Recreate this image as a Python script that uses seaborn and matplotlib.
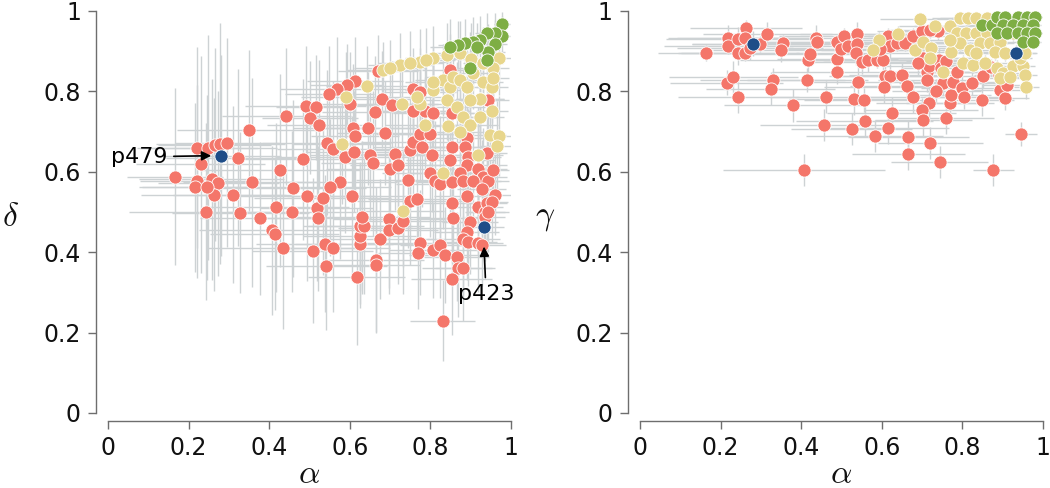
import matplotlib
matplotlib.use("Agg")
import matplotlib.pyplot as plt
import seaborn as sns

# ---------------- data ----------------
# Left panel: alpha vs delta
lr_alpha = [0.670,0.613,0.592,0.567,0.549,0.491,0.516,0.442,0.501,0.524,
            0.351,0.600,0.679,0.704,0.662,0.609,0.613,0.646,0.687,0.543,
            0.559,0.588,0.610,0.650,0.658,0.712,0.700,0.720,0.749,0.757,
            0.774,0.799,0.778,0.803,0.757,0.774,0.787,0.807,0.849,0.853,
            0.890,0.853,0.849,0.886,0.894,0.890,0.940,0.919,0.931,0.873,
            0.799,0.812,0.824,0.853,0.882,0.906,0.944,0.956,0.960,0.927,
            0.745,0.923,0.944,0.757,0.221,0.249,0.265,0.278,0.295,0.323,
            0.230,0.166,0.220,0.257,0.274,0.357,0.427,0.485,0.460,0.576,
            0.605,0.493,0.311,0.262,0.216,0.245,0.243,0.328,0.377,0.417,
            0.456,0.518,0.533,0.551,0.522,0.406,0.414,0.435,0.508,0.538,
            0.559,0.541,0.617,0.624,0.624,0.625,0.634,0.629,0.665,0.665,
            0.675,0.698,0.698,0.720,0.731,0.749,0.766,0.774,0.770,0.807,
            0.824,0.836,0.865,0.869,0.882,0.853,0.830,0.857,0.853,0.890,
            0.919,0.936,0.940,0.952,0.898,0.890,0.882,0.894,0.919,0.927,
            0.936,0.944]
lr_delta = [0.850,0.825,0.817,0.806,0.793,0.764,0.760,0.738,0.735,0.717,
            0.703,0.769,0.780,0.766,0.748,0.708,0.688,0.708,0.696,0.672,
            0.656,0.637,0.650,0.641,0.621,0.644,0.608,0.617,0.654,0.675,
            0.695,0.695,0.662,0.641,0.807,0.799,0.750,0.745,0.853,0.745,
            0.683,0.662,0.629,0.662,0.637,0.617,0.646,0.608,0.588,0.597,
            0.597,0.577,0.569,0.574,0.577,0.577,0.577,0.604,0.542,0.558,
            0.580,0.782,0.779,0.750,0.660,0.660,0.667,0.670,0.672,0.635,
            0.619,0.588,0.577,0.581,0.572,0.574,0.604,0.631,0.559,0.574,
            0.539,0.539,0.543,0.543,0.561,0.561,0.501,0.498,0.484,0.512,
            0.501,0.509,0.534,0.561,0.484,0.454,0.446,0.410,0.404,0.421,
            0.410,0.366,0.339,0.421,0.441,0.464,0.466,0.487,0.381,0.369,
            0.433,0.482,0.455,0.460,0.477,0.528,0.532,0.424,0.399,0.405,
            0.417,0.393,0.389,0.360,0.360,0.333,0.230,0.484,0.523,0.540,
            0.513,0.501,0.522,0.526,0.475,0.451,0.434,0.426,0.422,0.417,
            0.488,0.501]
lr_alpha_err = [0.10,0.12,0.09,0.14,0.11,0.15,0.10,0.16,0.12,0.13,
                0.18,0.12,0.10,0.09,0.13,0.15,0.11,0.14,0.12,0.16,
                0.14,0.17,0.12,0.15,0.13,0.11,0.16,0.12,0.10,0.13,
                0.11,0.09,0.12,0.10,0.08,0.09,0.11,0.10,0.07,0.09,
                0.08,0.10,0.11,0.09,0.08,0.10,0.05,0.07,0.06,0.09,
                0.12,0.10,0.11,0.09,0.08,0.07,0.05,0.04,0.04,0.06,
                0.13,0.06,0.05,0.11,0.15,0.17,0.14,0.16,0.13,0.18,
                0.16,0.12,0.14,0.18,0.15,0.17,0.20,0.15,0.18,0.14,
                0.16,0.17,0.15,0.18,0.14,0.16,0.19,0.17,0.15,0.18,
                0.16,0.14,0.17,0.15,0.13,0.18,0.16,0.19,0.15,0.17,
                0.14,0.15,0.12,0.16,0.14,0.13,0.15,0.17,0.12,0.11,
                0.13,0.14,0.12,0.15,0.11,0.13,0.12,0.14,0.10,0.11,
                0.10,0.09,0.08,0.09,0.07,0.10,0.08,0.09,0.11,0.08,
                0.06,0.05,0.05,0.04,0.07,0.08,0.09,0.07,0.06,0.06,
                0.05,0.05]
lr_delta_err = [0.09,0.11,0.10,0.13,0.12,0.15,0.13,0.17,0.14,0.16,
                0.20,0.13,0.12,0.11,0.14,0.16,0.15,0.14,0.13,0.18,
                0.17,0.19,0.15,0.16,0.18,0.14,0.17,0.15,0.13,0.14,
                0.12,0.13,0.15,0.14,0.10,0.11,0.12,0.12,0.09,0.11,
                0.12,0.14,0.15,0.13,0.12,0.14,0.11,0.13,0.12,0.15,
                0.16,0.15,0.17,0.14,0.13,0.12,0.11,0.10,0.10,0.12,
                0.17,0.10,0.09,0.12,0.25,0.28,0.24,0.30,0.26,0.22,
                0.27,0.22,0.24,0.25,0.23,0.26,0.24,0.20,0.22,0.19,
                0.20,0.21,0.22,0.24,0.21,0.23,0.22,0.20,0.19,0.21,
                0.20,0.18,0.19,0.17,0.18,0.21,0.19,0.20,0.18,0.17,
                0.16,0.16,0.17,0.15,0.18,0.16,0.17,0.19,0.18,0.17,
                0.15,0.17,0.16,0.14,0.18,0.16,0.15,0.13,0.14,0.12,
                0.13,0.12,0.11,0.12,0.13,0.14,0.10,0.14,0.15,0.13,
                0.12,0.11,0.12,0.10,0.13,0.12,0.14,0.11,0.12,0.10,
                0.11,0.10]

ly_alpha = [0.683,0.725,0.774,0.807,0.840,0.873,0.642,0.590,0.729,0.774,
            0.766,0.787,0.807,0.832,0.849,0.857,0.873,0.890,0.906,0.931,
            0.952,0.840,0.865,0.882,0.898,0.923,0.952,0.844,0.873,0.948,
            0.969,0.964,0.919,0.832,0.580,0.807,0.923,0.898,0.969,0.956,
            0.956,0.733,0.700,0.750,0.790,0.900,0.930]
ly_delta = [0.853,0.866,0.874,0.882,0.890,0.895,0.813,0.787,0.769,0.769,
            0.787,0.716,0.804,0.829,0.812,0.837,0.829,0.812,0.845,0.824,
            0.812,0.779,0.762,0.737,0.716,0.737,0.750,0.714,0.700,0.692,
            0.689,0.665,0.642,0.597,0.669,0.824,0.782,0.779,0.882,0.858,
            0.833,0.503,0.858,0.870,0.878,0.880,0.870]
ly_alpha_err = [0.09,0.08,0.07,0.07,0.06,0.06,0.10,0.11,0.09,0.08,
                0.09,0.10,0.07,0.07,0.06,0.07,0.06,0.06,0.05,0.05,
                0.04,0.08,0.07,0.08,0.07,0.06,0.04,0.08,0.07,0.04,
                0.03,0.04,0.06,0.09,0.12,0.07,0.06,0.07,0.03,0.04,
                0.04,0.10,0.09,0.08,0.07,0.06,0.05]
ly_delta_err = [0.07,0.08,0.08,0.08,0.08,0.08,0.10,0.11,0.11,0.10,
                0.09,0.12,0.09,0.09,0.09,0.09,0.09,0.09,0.09,0.09,
                0.09,0.10,0.11,0.12,0.12,0.11,0.10,0.12,0.12,0.10,
                0.10,0.11,0.12,0.14,0.15,0.09,0.09,0.10,0.09,0.09,
                0.09,0.14,0.07,0.08,0.08,0.09,0.09]

lg_alpha = [0.977,0.977,0.960,0.940,0.923,0.906,0.886,0.869,0.849,0.960,0.944,0.940,0.898,0.915]
lg_delta = [0.968,0.938,0.945,0.945,0.928,0.924,0.920,0.915,0.911,0.918,0.897,0.877,0.858,0.911]
lg_alpha_err = [0.02,0.02,0.03,0.03,0.04,0.04,0.04,0.05,0.05,0.03,0.04,0.04,0.05,0.04]
lg_delta_err = [0.03,0.05,0.05,0.05,0.06,0.06,0.06,0.06,0.07,0.06,0.07,0.08,0.09,0.06]

# Right panel: alpha vs gamma
rr_alpha = [0.165,0.219,0.219,0.244,0.263,0.261,0.244,0.261,0.273,0.298,
            0.316,0.354,0.350,0.215,0.232,0.244,0.329,0.324,0.379,0.407,
            0.415,0.418,0.423,0.437,0.440,0.462,0.457,0.488,0.490,0.488,
            0.506,0.500,0.517,0.538,0.539,0.536,0.541,0.531,0.556,0.558,
            0.525,0.550,0.567,0.587,0.604,0.583,0.608,0.620,0.606,0.625,
            0.616,0.616,0.620,0.637,0.649,0.658,0.662,0.677,0.678,0.666,
            0.666,0.699,0.703,0.716,0.699,0.703,0.720,0.744,0.713,0.711,
            0.718,0.742,0.752,0.748,0.759,0.769,0.771,0.777,0.786,0.798,
            0.804,0.823,0.848,0.852,0.877,0.893,0.906,0.910,0.945,0.740,
            0.720,0.596,0.690,0.735,0.760,0.870,0.890]
rr_gamma = [0.896,0.934,0.913,0.930,0.957,0.934,0.895,0.895,0.907,0.917,
            0.942,0.920,0.903,0.822,0.835,0.785,0.828,0.807,0.765,0.604,
            0.828,0.878,0.893,0.934,0.923,0.787,0.717,0.923,0.880,0.849,
            0.938,0.905,0.912,0.942,0.918,0.895,0.823,0.782,0.778,0.727,
            0.706,0.872,0.877,0.878,0.878,0.689,0.838,0.838,0.812,0.746,
            0.708,0.938,0.912,0.920,0.841,0.920,0.814,0.938,0.785,0.686,
            0.645,0.949,0.882,0.772,0.754,0.729,0.671,0.625,0.849,0.828,
            0.863,0.878,0.820,0.857,0.734,0.770,0.791,0.824,0.849,0.808,
            0.787,0.820,0.779,0.838,0.604,0.804,0.783,0.816,0.693,0.949,
            0.953,0.905,0.870,0.800,0.875,0.860,0.840]
rr_alpha_err = [0.12,0.15,0.16,0.18,0.14,0.17,0.15,0.16,0.18,0.17,
                0.16,0.15,0.17,0.14,0.16,0.15,0.18,0.16,0.17,0.20,
                0.15,0.17,0.16,0.18,0.15,0.14,0.16,0.17,0.15,0.16,
                0.16,0.15,0.17,0.14,0.16,0.15,0.14,0.16,0.15,0.17,
                0.15,0.14,0.16,0.13,0.15,0.17,0.14,0.13,0.15,0.16,
                0.15,0.13,0.14,0.12,0.13,0.12,0.14,0.11,0.13,0.15,
                0.14,0.11,0.12,0.13,0.14,0.12,0.13,0.12,0.11,0.12,
                0.11,0.10,0.11,0.10,0.12,0.11,0.10,0.11,0.09,0.10,
                0.10,0.09,0.08,0.08,0.05,0.07,0.06,0.06,0.04,0.10,
                0.10,0.14,0.12,0.11,0.10,0.07,0.06]
rr_gamma_err = [0.02,0.03,0.02,0.03,0.02,0.03,0.03,0.02,0.03,0.02,
                0.03,0.02,0.03,0.03,0.04,0.04,0.03,0.04,0.04,0.04,
                0.03,0.03,0.02,0.03,0.02,0.04,0.04,0.02,0.03,0.03,
                0.02,0.03,0.02,0.03,0.02,0.03,0.04,0.04,0.03,0.04,
                0.04,0.03,0.03,0.02,0.03,0.04,0.03,0.03,0.04,0.04,
                0.04,0.02,0.03,0.02,0.03,0.02,0.03,0.02,0.04,0.04,
                0.04,0.02,0.03,0.04,0.03,0.04,0.04,0.04,0.03,0.03,
                0.03,0.03,0.03,0.03,0.04,0.04,0.03,0.03,0.03,0.03,
                0.03,0.03,0.04,0.03,0.04,0.03,0.03,0.03,0.03,0.02,
                0.02,0.03,0.03,0.03,0.03,0.02,0.03]

ry_alpha = [0.695,0.592,0.579,0.641,0.682,0.703,0.723,0.732,0.720,0.753,
            0.773,0.769,0.794,0.815,0.835,0.860,0.786,0.810,0.835,0.860,
            0.794,0.819,0.844,0.868,0.893,0.802,0.827,0.856,0.881,0.906,
            0.885,0.901,0.926,0.951,0.955,0.959,0.893,0.918,0.943,0.955,
            0.926,0.835,0.769]
ry_gamma = [0.980,0.927,0.903,0.942,0.903,0.923,0.907,0.962,0.882,0.849,
            0.899,0.962,0.982,0.982,0.982,0.982,0.945,0.945,0.945,0.945,
            0.920,0.903,0.920,0.920,0.924,0.870,0.866,0.870,0.899,0.895,
            0.857,0.845,0.862,0.862,0.841,0.812,0.833,0.837,0.882,0.895,
            0.945,0.895,0.928]
ry_alpha_err = [0.10,0.12,0.13,0.11,0.10,0.10,0.09,0.09,0.10,0.09,
                0.08,0.09,0.07,0.07,0.06,0.05,0.08,0.07,0.06,0.06,
                0.08,0.07,0.07,0.06,0.05,0.08,0.07,0.06,0.06,0.05,
                0.05,0.05,0.04,0.03,0.03,0.03,0.05,0.04,0.03,0.03,
                0.04,0.07,0.09]
ry_gamma_err = [0.01,0.02,0.02,0.02,0.02,0.02,0.02,0.01,0.02,0.03,
                0.02,0.01,0.01,0.01,0.01,0.01,0.02,0.02,0.02,0.02,
                0.02,0.02,0.02,0.02,0.02,0.02,0.02,0.02,0.02,0.02,
                0.02,0.02,0.02,0.02,0.02,0.03,0.02,0.02,0.02,0.02,
                0.02,0.02,0.02]

rg_alpha = [0.848,0.873,0.885,0.906,0.939,0.961,0.980,0.902,0.926,0.951,
            0.976,0.885,0.910,0.939,0.961,0.980,0.951,0.976]
rg_gamma = [0.965,0.965,0.984,0.984,0.984,0.984,0.984,0.965,0.965,0.965,
            0.965,0.946,0.946,0.946,0.946,0.946,0.924,0.924]
rg_alpha_err = [0.04,0.04,0.03,0.03,0.02,0.02,0.02,0.03,0.03,0.02,
                0.02,0.04,0.03,0.03,0.02,0.02,0.02,0.02]
rg_gamma_err = [0.01,0.01,0.01,0.01,0.01,0.01,0.01,0.01,0.01,0.01,
                0.01,0.01,0.01,0.01,0.01,0.01,0.01,0.01]

# highlighted participants
hl_names = ["p479", "p423"]
hl_alpha = [0.280, 0.933]
hl_delta = [0.640, 0.462]
hl_gamma = [0.919, 0.895]
hl_alpha_err = [0.15, 0.05]
hl_delta_err = [0.25, 0.10]
hl_gamma_err = [0.03, 0.02]

tick_vals = [0, 0.2, 0.4, 0.6, 0.8, 1]
tick_labels = ["0", "0.2", "0.4", "0.6", "0.8", "1"]

# ---------------- style ----------------
sns.set_theme(style="ticks")
plt.rcParams['font.family'] = ['DejaVu Sans']
plt.rcParams['mathtext.fontset'] = 'cm'

RED = "#F4766A"
YEL = "#E8D68C"
GRN = "#7EAE44"
BLU = "#1E4D88"
ERR = "#CDD2D4"
SPINE = "#6E6E6E"
TXT = "#111111"

fig = plt.figure(figsize=(10.5, 4.88), dpi=100)
ax1 = fig.add_axes([0.1029, 0.1537, 0.3838, 0.8238])
ax2 = fig.add_axes([0.6095, 0.1537, 0.3838, 0.8238])

groups_left = [
    (lr_alpha, lr_delta, lr_alpha_err, lr_delta_err, RED),
    (ly_alpha, ly_delta, ly_alpha_err, ly_delta_err, YEL),
    (lg_alpha, lg_delta, lg_alpha_err, lg_delta_err, GRN),
    (hl_alpha, hl_delta, hl_alpha_err, hl_delta_err, BLU),
]
groups_right = [
    (rr_alpha, rr_gamma, rr_alpha_err, rr_gamma_err, RED),
    (ry_alpha, ry_gamma, ry_alpha_err, ry_gamma_err, YEL),
    (rg_alpha, rg_gamma, rg_alpha_err, rg_gamma_err, GRN),
    (hl_alpha, hl_gamma, hl_alpha_err, hl_gamma_err, BLU),
]

for ax, groups, ylab, ylab_x in [(ax1, groups_left, r'$\delta$', -0.243),
                                  (ax2, groups_right, r'$\gamma$', -0.236)]:
    for x, y, xe, ye, c in groups:
        ax.errorbar(x, y, xerr=xe, yerr=ye, fmt='none', ecolor=ERR,
                    elinewidth=1.0, capsize=0, zorder=1)
    for x, y, xe, ye, c in groups:
        sns.scatterplot(x=x, y=y, color=c, s=90, edgecolor='white',
                        linewidth=0.6, ax=ax, zorder=3, legend=False)
    ax.set_xlim(0, 1)
    ax.set_ylim(0, 1)
    ax.set_xticks(tick_vals)
    ax.set_xticklabels(tick_labels)
    ax.set_yticks(tick_vals)
    ax.set_yticklabels(tick_labels)
    sns.despine(ax=ax, offset={'left': 8.6, 'bottom': 5.8})
    for s in ['left', 'bottom']:
        ax.spines[s].set_bounds(0, 1)
        ax.spines[s].set_color(SPINE)
        ax.spines[s].set_linewidth(1.0)
    ax.tick_params(axis='both', which='major', length=6, width=1,
                   color=SPINE, labelsize=17, labelcolor=TXT, pad=5)
    ax.set_xlabel(r'$\alpha$', fontsize=24, color=TXT)
    ax.xaxis.set_label_coords(0.5, -0.15)
    ax.xaxis.label.set_va('center')
    ax.set_ylabel(ylab, fontsize=24, rotation=0, color=TXT)
    ax.yaxis.set_label_coords(ylab_x, 0.49)
    ax.yaxis.label.set_va('center')
    ax.yaxis.label.set_ha('center')

arrow = dict(arrowstyle='-|>', color='black', lw=1.2, mutation_scale=14,
             shrinkA=2, shrinkB=0)
ax1.annotate(hl_names[0], xy=(hl_alpha[0] - 0.024, hl_delta[0]),
             xytext=(0.078, 0.637), fontsize=16, ha='center', va='center',
             color='black', arrowprops=arrow, zorder=5)
ax1.annotate(hl_names[1], xy=(hl_alpha[1], hl_delta[1] - 0.048),
             xytext=(0.938, 0.297), fontsize=16, ha='center', va='center',
             color='black', arrowprops=arrow, zorder=5, annotation_clip=False)

fig.savefig("out.png", dpi=100)
